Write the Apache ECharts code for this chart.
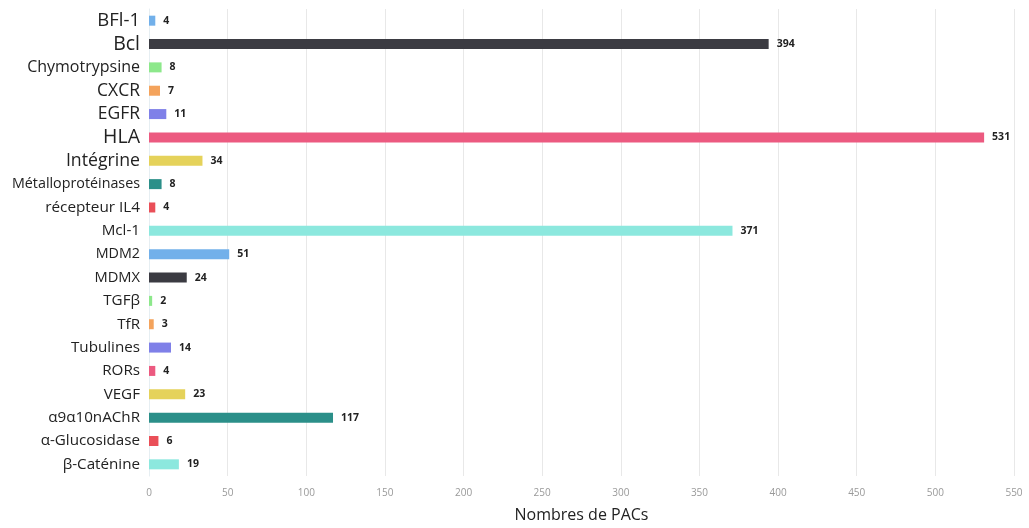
<!DOCTYPE html>
<html><head><meta charset="utf-8">
<script src="https://cdn.jsdelivr.net/npm/echarts@6/dist/echarts.min.js"></script>
<style>html,body{margin:0;padding:0;background:#fff}#c{width:1029px;height:528px}</style>
</head><body><div id="c"></div>
<script>
const categories = ['BFl-1','Bcl','Chymotrypsine','CXCR','EGFR','HLA','Intégrine','Métalloprotéinases','récepteur IL4','Mcl-1','MDM2','MDMX','TGFβ','TfR','Tubulines','RORs','VEGF','α9α10nAChR','α-Glucosidase','β-Caténine'];
const values = [4,394,8,7,11,531,34,8,4,371,51,24,2,3,14,4,23,117,6,19];
const xTicks = [0,50,100,150,200,250,300,350,400,450,500,550];
const palette = ['#72b0ea','#3b3b42','#8de88b','#f4a35c','#7f80e8','#ec5a80','#e5d25a','#2b8f89','#ea4f58','#8ce8de'];
// label font sizes (the reference labels are pasted at mixed sizes)
const labelSize = {'BFl-1':18.5,'Bcl':19.5,'Chymotrypsine':16,'CXCR':17.5,'EGFR':17.5,'HLA':19.5,'Intégrine':17.7,'Métalloprotéinases':14.3,'récepteur IL4':15.3,'MDM2':14.3,'MDMX':14.7};

const chart = echarts.init(document.getElementById('c'));
chart.setOption({
  animation:false,
  grid:{left:149,right:15,top:9,bottom:48,containLabel:false},
  xAxis:{type:'value',min:xTicks[0],max:xTicks[xTicks.length-1],interval:50,
    name:'Nombres de PACs',nameLocation:'middle',nameGap:31,
    nameTextStyle:{fontFamily:'Open Sans',fontSize:16,color:'#222'},
    axisLine:{show:false},axisTick:{show:false},
    axisLabel:{fontFamily:'Open Sans',fontSize:10,color:'#999',margin:12},
    splitLine:{show:true,lineStyle:{color:'#e8e8e8',width:1}}},
  yAxis:{type:'category',inverse:true,
    data:categories.map(c=>({value:c,textStyle:{fontSize:labelSize[c]||15.2}})),
    axisLine:{show:true,lineStyle:{color:'#e6eef2'}},axisTick:{show:false},
    axisLabel:{fontFamily:'Open Sans',color:'#222',margin:9}},
  series:[{type:'bar',barWidth:10,
    data:values.map((v,i)=>({value:v,itemStyle:{color:palette[i%palette.length]}})),
    label:{show:true,position:'right',distance:8,fontFamily:'Open Sans',fontWeight:'bold',fontSize:10.5,color:'#222'}}]
});
</script></body></html>
